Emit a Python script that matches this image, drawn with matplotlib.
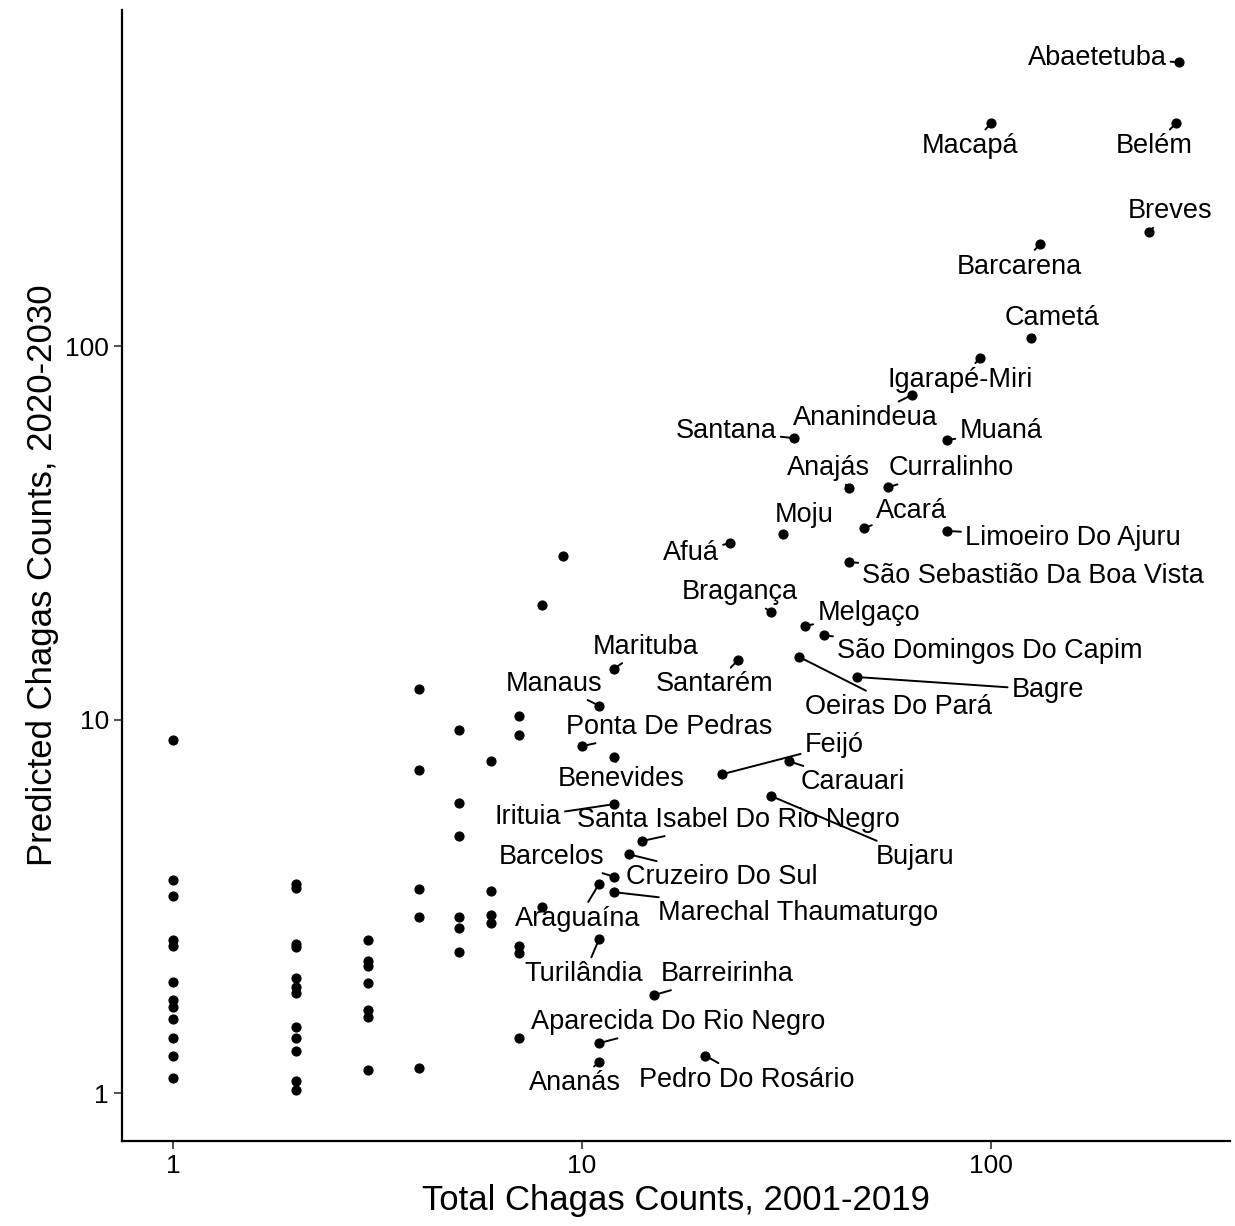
import numpy as np
import matplotlib.pyplot as plt

plt.rcParams['font.family'] = ['Liberation Sans', 'DejaVu Sans']

# labelled municipalities: name, total 2001-2019, predicted 2020-2030, label offset (px)
names = ['Abaetetuba', 'Macapá', 'Belém', 'Breves', 'Barcarena', 'Cametá',
         'Igarapé-Miri', 'Ananindeua', 'Santana', 'Muaná', 'Anajás', 'Curralinho',
         'Moju', 'Acará', 'Limoeiro Do Ajuru', 'Afuá', 'São Sebastião Da Boa Vista',
         'Bragança', 'Melgaço', 'São Domingos Do Capim', 'Marituba', 'Santarém',
         'Oeiras Do Pará', 'Bagre', 'Manaus', 'Ponta De Pedras', 'Benevides',
         'Feijó', 'Carauari', 'Irituia', 'Santa Isabel Do Rio Negro', 'Bujaru',
         'Barcelos', 'Cruzeiro Do Sul', 'Marechal Thaumaturgo', 'Araguaína',
         'Turilândia', 'Barreirinha', 'Aparecida Do Rio Negro', 'Ananás',
         'Pedro Do Rosário']
lab_x = [288, 100, 283, 243, 132, 125, 94, 64, 33, 78, 45, 56, 31, 49, 78, 23, 45,
         29, 35, 39, 12, 24, 34, 47, 11, 10, 12, 22, 32, 12, 14, 29, 12, 13, 12, 11,
         11, 15, 11, 11, 20]
lab_y = [576, 395, 395, 202, 188, 105, 93, 74, 56.7, 56, 41.7, 41.9, 31.4, 32.6, 32,
         29.7, 26.4, 19.4, 17.8, 16.8, 13.7, 14.4, 14.7, 13.0, 10.9, 8.49, 7.94, 7.14,
         7.74, 5.94, 4.73, 6.24, 3.79, 4.36, 3.45, 3.63, 2.58, 1.83, 1.36, 1.21, 1.26]
off_x = [-82, -21, -22, 21, -21, 21, -20, -46, -68, 54, -21, 63, 21, 47, 126, -39, 184,
         -31, 64, 166, 31, -23, 99, 191, -45, 87, 7, 112, 64, -87, 97, 144, -63, 93,
         184, -21, -15, 73, 79, -24, 42]
off_y = [4, -23, -23, 21, -23, 20, -22, -23, 7, 9, 20, 19, 19, 17, -7, -10, -14,
         20, 13, -16, 22, -24, -50, -13, 22, 19, -22, 29, -21, -13, 21, -61, 20, -23,
         -21, -35, -35, 21, 21, -21, -24]

# unlabelled municipalities
other_x = [1] * 12 + [2] * 12 + [3] * 7 + [4] * 5 + [5] * 6 + [6] * 4 + [7] * 5 + [8, 8, 9]
other_y = [8.81, 3.72, 3.37, 2.57, 2.47, 1.98, 1.77, 1.70, 1.58, 1.40, 1.26, 1.10,
           3.63, 3.54, 2.50, 2.46, 2.03, 1.92, 1.85, 1.50, 1.40, 1.30, 1.08, 1.02,
           2.57, 2.26, 2.19, 1.97, 1.67, 1.60, 1.15,
           12.1, 7.33, 3.52, 2.96, 1.17,
           9.37, 5.98, 4.88, 2.96, 2.77, 2.39,
           7.74, 3.47, 3.0, 2.85,
           10.2, 9.09, 2.47, 2.37, 1.40,
           20.3, 3.15, 27.4]

fig = plt.figure(figsize=(12.35, 12.26), dpi=100)
ax = fig.add_axes([0.0988, 0.0693, 0.8972, 0.9225])

ax.scatter(other_x, other_y, s=40, color='black', zorder=3)
ax.scatter(lab_x, lab_y, s=40, color='black', zorder=3)

for name, x, y, dx, dy in zip(names, lab_x, lab_y, off_x, off_y):
    ax.annotate(name, (x, y), xytext=(dx, dy), textcoords='offset pixels',
                ha='center', va='center', fontsize=19.5,
                arrowprops=dict(arrowstyle='-', color='black', lw=1.4,
                                shrinkA=1, shrinkB=3))

ax.set_xscale('log')
ax.set_yscale('log')
ax.set_xlim(0.75, 384)
ax.set_ylim(0.744, 794)
ax.set_xticks([1, 10, 100])
ax.set_xticklabels(['1', '10', '100'])
ax.set_yticks([1, 10, 100])
ax.set_yticklabels(['1', '10', '100'])
ax.minorticks_off()
ax.tick_params(labelsize=19, length=6, width=1.2, color='#333333')

for side in ['top', 'right']:
    ax.spines[side].set_visible(False)
for side in ['left', 'bottom']:
    ax.spines[side].set_linewidth(1.6)

ax.set_xlabel('Total Chagas Counts, 2001-2019', fontsize=25, labelpad=4)
ax.set_ylabel('Predicted Chagas Counts, 2020-2030', fontsize=25, labelpad=4)

fig.savefig('out.png')
